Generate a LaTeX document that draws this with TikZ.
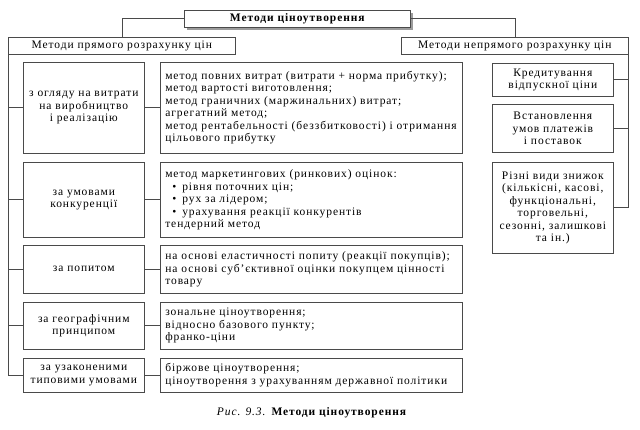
\documentclass[tikz,border=0pt]{standalone}
\usepackage{fontspec}
\setmainfont[LetterSpace=8]{Liberation Serif}
\usetikzlibrary{shadows, positioning}
\definecolor{lineGrey}{HTML}{4A4A4A}
\definecolor{shadowGrey}{HTML}{9C9C9C}
\tikzset{
  basefont/.style  = {font=\fontsize{11.5}{12.5}\selectfont},
  box/.style       = {draw=lineGrey, line width=0.6pt, fill=white, anchor=north west,
                      inner xsep=3pt, inner ysep=2pt, basefont},
  titlebox/.style  = {box, minimum width=226pt, minimum height=17pt,
                      font=\fontsize{11.5}{12.5}\selectfont\bfseries,
                      drop shadow={shadow xshift=3pt, shadow yshift=-3pt,
                                   fill=shadowGrey, opacity=1}},
  headbox/.style   = {box, minimum width=227pt, minimum height=17pt},
  leftbox/.style   = {box, minimum width=121pt, text width=115pt, align=center},
  methodbox/.style = {box, minimum width=302pt, text width=292pt, inner xsep=5pt,
                      align=left},
  sidebox/.style   = {box, minimum width=121pt, text width=115pt, align=center},
  link/.style      = {draw=lineGrey, line width=0.6pt},
}
\newcommand{\bul}{\hspace*{7pt}\textbullet\hspace{6pt}}

\begin{document}
\begin{tikzpicture}[x=1pt, y=-1pt]
  \useasboundingbox (0,0) rectangle (640,430);

  \node[titlebox] (title) at (184,10) {Методи ціноутворення};
  \node[headbox] (direct) at (8,37) {Методи прямого розрахунку цін};
  \node[headbox] (indirect) at (401,37) {Методи непрямого розрахунку цін};

  \draw[link] (title.west) -| (direct.north);
  \draw[link] (title.east) -| (indirect.north);

  % direct methods
  \node[leftbox, minimum height=91pt] (cost) at (23,62)
    {з огляду на витрати\\на виробництво\\і реалізацію};
  \node[methodbox, minimum height=91pt] (costm) at (160,62)
    {метод повних витрат (витрати + норма прибутку);\\
     метод вартості виготовлення;\\
     метод граничних (маржинальних) витрат;\\
     агрегатний метод;\\
     метод рентабельності (беззбитковості) і отримання\\
     цільового прибутку};

  \node[leftbox, minimum height=75pt] (compet) at (23,162)
    {за умовами\\конкуренції};
  \node[methodbox, minimum height=75pt] (competm) at (160,162)
    {метод маркетингових (ринкових) оцінок:\\
     \bul рівня поточних цін;\\
     \bul рух за лідером;\\
     \bul урахування реакції конкурентів\\
     тендерний метод};

  \node[leftbox, minimum height=48pt] (demand) at (23,245)
    {за попитом};
  \node[methodbox, minimum height=48pt] (demandm) at (160,245)
    {на основі еластичності попиту (реакції покупців);\\
     на основі суб'єктивної оцінки покупцем цінності\\
     товару};

  \node[leftbox, minimum height=47pt] (geo) at (23,302)
    {за географічним\\принципом};
  \node[methodbox, minimum height=47pt] (geom) at (160,302)
    {зональне ціноутворення;\\
     відносно базового пункту;\\
     франко-ціни};

  \node[leftbox, minimum height=34pt] (legal) at (23,358)
    {за узаконеними\\типовими умовами};
  \node[methodbox, minimum height=34pt] (legalm) at (160,358)
    {біржове ціноутворення;\\
     ціноутворення з урахуванням державної політики};

  \foreach \n in {cost, compet, demand, geo, legal} {
    \draw[link] (direct.south west) |- (\n.west);
    \draw[link] (\n.east) -- (\n m.west);
  }

  % indirect methods
  \node[sidebox, minimum height=33pt] (credit) at (492,63)
    {Кредитування\\відпускної ціни};
  \node[sidebox, minimum height=48pt] (terms) at (492,104)
    {Встановлення\\умов платежів\\і поставок};
  \node[sidebox, minimum height=91pt] (discount) at (492,162)
    {Різні види знижок\\(кількісні, касові,\\функціональні,\\торговельні,\\сезонні, залишкові\\та ін.)};

  \foreach \n in {credit, terms, discount}
    \draw[link] (indirect.south east) |- (\n.east);

  \node[basefont] (caption) at (312,413)
    {\textit{Рис. 9.3.} \textbf{Методи ціноутворення}};
\end{tikzpicture}
\end{document}
